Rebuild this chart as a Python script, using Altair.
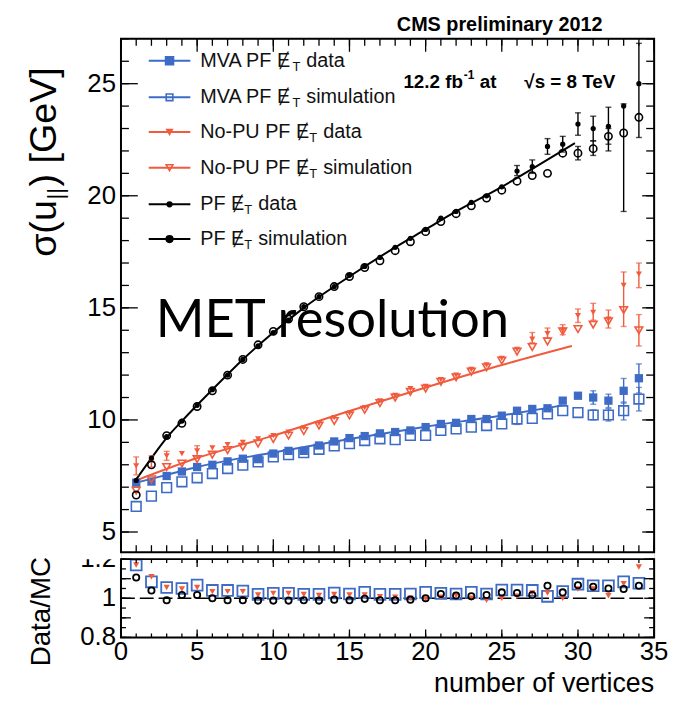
import altair as alt
import pandas as pd

# ---------------- data ----------------
nvtx = list(range(1, 35))

mva_data = [7.2, 7.25, 7.5, 7.7, 7.9, 8.0, 8.15, 8.27, 8.25, 8.5,
            8.62, 8.62, 8.86, 9.04, 9.19, 9.28, 9.4, 9.46, 9.53, 9.68,
            9.82, 9.87, 10.04, 10.04, 10.19, 10.41, 10.49, 10.52, 10.86, 11.08,
            11.0, 10.86, 11.3, 11.86]
mva_sim = [6.14, 6.6, 6.98, 7.24, 7.42, 7.61, 7.83, 7.98, 8.13, 8.35,
           8.45, 8.54, 8.69, 8.84, 8.94, 9.08, 9.16, 9.12, 9.31, 9.31,
           9.53, 9.6, 9.68, 9.75, 9.82, 10.04, 10.07, 10.27, 10.41, 10.33,
           10.22, 10.22, 10.41, 10.93]
nopu_data = [7.95, 8.15, 8.4, 8.5, 8.62, 8.75, 8.9, 9.0, 9.15, 9.3,
             9.45, 9.65, 9.85, 10.1, 10.3, 10.55, 10.85, 11.1, 11.4, 11.5,
             11.8, 12.0, 12.25, 12.45, 12.75, 13.15, 13.6, 13.85, 14.0, 14.65,
             14.8, 14.5, 16.0, 16.5]
nopu_sim = [6.85, 7.35, 7.9, 8.05, 8.25, 8.45, 8.65, 8.8, 8.95, 9.15,
            9.3, 9.5, 9.75, 9.95, 10.2, 10.45, 10.75, 11.0, 11.25, 11.4,
            11.7, 11.9, 12.15, 12.35, 12.65, 13.05, 13.25, 13.5, 13.95, 14.05,
            14.25, 14.4, 14.9, 14.0]
pf_data = [7.3, 8.3, 9.25, 9.95, 10.65, 11.35, 12.0, 12.7, 13.3, 13.9,
           14.45, 15.05, 15.5, 15.95, 16.45, 16.85, 17.25, 17.7, 18.1, 18.5,
           19.0, 19.3, 19.7, 20.0, 20.4, 21.1, 21.3, 22.2, 22.3, 23.2,
           23.0, 23.1, 24.0, 25.0]
pf_sim = [6.65, 8.0, 9.3, 9.85, 10.6, 11.3, 12.0, 12.7, 13.35, 13.95,
          14.5, 15.05, 15.5, 15.95, 16.4, 16.8, 17.1, 17.55, 17.95, 18.4,
          18.85, 19.2, 19.55, 19.9, 20.25, 20.65, 20.9, 21.0, 21.9, 21.9,
          22.1, 22.65, 22.8, 23.5]

# fitted curves
pf_fit_x = [1, 2, 3, 4, 6, 8, 10, 12, 15, 18, 20, 22, 25, 27, 29.8]
pf_fit_y = [7.35, 8.3, 9.2, 9.95, 11.35, 12.7, 13.9, 15.0, 16.4, 17.7, 18.5, 19.3, 20.4, 21.2, 22.35]
nopu_fit_x = [1, 5, 10, 15, 20, 25, 29.6]
nopu_fit_y = [7.3, 8.3, 9.3, 10.4, 11.45, 12.45, 13.3]
mva_fit_x = [1, 3, 5, 10, 15, 20, 25, 29]
mva_fit_y = [7.2, 7.55, 7.9, 8.55, 9.15, 9.7, 10.2, 10.65]

# error bars (x, low, high)
pf_err = [(26, 20.9, 21.35), (27, 21.0, 21.6), (28, 21.85, 22.55), (29, 21.95, 22.65),
          (30, 22.7, 23.7), (31, 22.45, 23.55), (32, 22.0, 23.95), (33, 19.3, 24.1),
          (34, 22.6, 26.8), (30, 21.6, 22.2), (31, 21.8, 22.45), (32, 22.3, 23.0)]
nopu_err = [(1, 7.55, 8.35), (2, 7.9, 8.4), (3, 8.2, 8.6), (5, 8.4, 8.85),
            (27, 13.45, 13.9), (28, 13.65, 14.1), (29, 13.8, 14.25), (30, 14.35, 14.95),
            (31, 14.45, 15.2), (32, 14.1, 14.9), (33, 14.17, 16.6), (34, 15.9, 17.0),
            (34, 13.3, 14.7)]
mva_err = [(26, 9.8, 10.3), (31, 10.7, 11.3), (31, 10.0, 10.45), (32, 10.55, 11.15),
           (32, 9.95, 10.5), (33, 10.75, 11.85), (33, 10.0, 10.8), (34, 11.2, 12.5),
           (34, 10.4, 11.45)]

# data / MC ratios
ratio_mva = [1.17, 1.084, 1.055, 1.05, 1.067, 1.04, 1.04, 1.037, 1.02, 1.025,
             1.025, 1.02, 1.02, 1.027, 1.022, 1.03, 1.02, 1.02, 1.022, 1.03,
             1.025, 1.022, 1.03, 1.022, 1.042, 1.042, 1.04, 1.01, 1.034, 1.072,
             1.064, 1.064, 1.084, 1.077]
ratio_nopu = [1.17, 1.11, 1.055, 1.047, 1.055, 1.034, 1.034, 1.034, 1.017, 1.025,
              1.025, 1.019, 1.014, 1.019, 1.017, 1.017, 1.008, 1.005, 1.0, 0.997,
              1.005, 1.014, 1.0, 0.99, 1.0, 1.01, 1.027, 1.027, 1.0, 1.047,
              1.047, 1.013, 1.074, 1.16]
ratio_pf = [1.106, 1.04, 0.99, 1.017, 1.017, 1.0, 0.99, 0.99, 0.988, 0.988,
            0.988, 0.99, 0.988, 0.993, 0.99, 0.997, 0.99, 0.99, 0.993, 1.0,
            1.022, 1.014, 1.01, 1.017, 1.03, 1.027, 1.017, 1.064, 1.03, 1.067,
            1.059, 1.05, 1.047, 1.064]

# axis ticks and labels
x_labels = [0, 5, 10, 15, 20, 25, 30, 35]
x_minor = list(range(0, 36))
y_labels = [5, 10, 15, 20, 25]
y_minor = list(range(5, 28))
r_labels = [0.8, 1.0, 1.2]
r_label_text = ["0.8", "1", "1.2"]
r_major = [0.8, 0.9, 1.0, 1.1, 1.2]
r_minor = [0.8, 0.85, 0.9, 0.95, 1.0, 1.05, 1.1, 1.15, 1.2]

legend_pre = ["MVA PF Ɇ", "MVA PF Ɇ", "No-PU PF Ɇ", "No-PU PF Ɇ", "PF Ɇ", "PF Ɇ"]
legend_suf = ["data", "simulation", "data", "simulation", "data", "simulation"]

# ---------------- layout / style ----------------
FONT = "Liberation Sans"
W, H = 538, 604
MAIN_B = 518
RAT_T = 525
BLUE = "#3d6bc6"
RED = "#f15b3d"
BLACK = "#000000"

xs = alt.Scale(domain=[0, 35], nice=False, zero=False)
ys_main = alt.Scale(domain=[4.1, 27.0], range=[MAIN_B, 0], nice=False, zero=False)
ys_rat = alt.Scale(domain=[0.8, 1.2], range=[H, RAT_T], nice=False, zero=False)

one = pd.DataFrame({"d": [0]})


def X(f="x"):
    return alt.X(f"{f}:Q", scale=xs, axis=None)


def Ym(f="y"):
    return alt.Y(f"{f}:Q", scale=ys_main, axis=None)


def Yr(f="y"):
    return alt.Y(f"{f}:Q", scale=ys_rat, axis=None)


layers = []

# --- fitted lines
for fx, fy, col in [(mva_fit_x, mva_fit_y, BLUE), (nopu_fit_x, nopu_fit_y, RED), (pf_fit_x, pf_fit_y, BLACK)]:
    layers.append(alt.Chart(pd.DataFrame({"x": fx, "y": fy})).mark_line(
        color=col, strokeWidth=2, interpolate="monotone").encode(x=X(), y=Ym(), order="x:Q"))

# --- error bars
for errs, col in [(mva_err, BLUE), (nopu_err, RED), (pf_err, BLACK)]:
    edf = pd.DataFrame(errs, columns=["x", "lo", "hi"])
    layers.append(alt.Chart(edf).mark_rule(color=col, strokeWidth=1.4).encode(
        x=X(), y=Ym("lo"), y2="hi:Q"))
    cdf = pd.DataFrame({"x": list(edf.x) * 2, "y": list(edf.lo) + list(edf.hi)})
    layers.append(alt.Chart(cdf).mark_tick(orient="horizontal", color=col, size=6, thickness=1.4).encode(
        x=X(), y=Ym()))


def pts(vals, shape, filled, col, size, yfn=Ym, sw=1.6):
    df = pd.DataFrame({"x": nvtx, "y": vals})
    return alt.Chart(df).mark_point(shape=shape, filled=filled, color=col, size=size,
                                    strokeWidth=sw, opacity=1).encode(x=X(), y=yfn())


layers += [
    pts(mva_sim, "square", False, BLUE, 95),
    pts(mva_data, "square", True, BLUE, 70),
    pts(nopu_sim, "triangle-down", False, RED, 60),
    pts(nopu_data, "triangle-down", True, RED, 38),
    pts(pf_sim, "circle", False, BLACK, 55),
    pts(pf_data, "circle", True, BLACK, 28),
]

# --- ratio panel
layers.append(alt.Chart(pd.DataFrame({"y": [1.0]})).mark_rule(
    color=BLACK, strokeWidth=1.5, strokeDash=[14, 5]).encode(
    x=alt.value(0), x2=alt.value(W), y=Yr()))
layers += [
    pts(ratio_mva, "square", False, BLUE, 120, yfn=Yr, sw=1.8),
    pts(ratio_nopu, "triangle-down", True, RED, 40, yfn=Yr),
    pts(ratio_pf, "circle", False, BLACK, 40, yfn=Yr, sw=1.8),
]

# --- frames
for y0, y1 in [(0, MAIN_B), (RAT_T, H)]:
    layers.append(alt.Chart(one).mark_rect(fill="white", fillOpacity=0, stroke=BLACK, strokeWidth=2).encode(
        x=alt.value(0), x2=alt.value(W), y=alt.value(y0), y2=alt.value(y1)))


# --- ticks (drawn inward)
def xticks(vals, y_edge, length):
    df = pd.DataFrame({"x": vals})
    return alt.Chart(df).mark_rule(color=BLACK, strokeWidth=1.3).encode(
        x=X(), y=alt.value(y_edge), y2=alt.value(y_edge + length))


def yticks(vals, yfn, x_edge, length):
    df = pd.DataFrame({"y": vals})
    return alt.Chart(df).mark_rule(color=BLACK, strokeWidth=1.3).encode(
        y=yfn(), x=alt.value(x_edge), x2=alt.value(x_edge + length))


layers += [
    xticks(x_minor, MAIN_B, -7), xticks(x_labels, MAIN_B, -13),
    xticks(x_minor, 0, 7), xticks(x_labels, 0, 13),
    yticks(y_minor, Ym, 0, 8), yticks(y_labels, Ym, 0, 17),
    yticks(y_minor, Ym, W, -8), yticks(y_labels, Ym, W, -12),
    xticks(x_minor, H, -4), xticks(x_labels, H, -8),
    xticks(x_minor, RAT_T, 4), xticks(x_labels, RAT_T, 8),
    yticks(r_minor, Yr, 0, 5), yticks(r_major, Yr, 0, 10),
    yticks(r_minor, Yr, W, -5), yticks(r_major, Yr, W, -10),
]

# --- tick labels
layers.append(alt.Chart(pd.DataFrame({"x": x_labels, "t": [str(v) for v in x_labels]})).mark_text(
    font=FONT, fontSize=26, baseline="middle", align="center", color=BLACK).encode(
    x=X(), y=alt.value(619), text="t:N"))
layers.append(alt.Chart(pd.DataFrame({"y": y_labels, "t": [str(v) for v in y_labels]})).mark_text(
    font=FONT, fontSize=26, baseline="middle", align="right", color=BLACK).encode(
    y=Ym(), x=alt.value(-5), text="t:N"))
layers.append(alt.Chart(pd.DataFrame({"y": r_labels, "t": r_label_text})).mark_text(
    font=FONT, fontSize=26, baseline="middle", align="right", color=BLACK).encode(
    y=Yr(), x=alt.value(-5), text="t:N"))
# the upper half of "1.2" is hidden in the original
layers.append(alt.Chart(one).mark_rect(fill="white").encode(
    x=alt.value(-60), x2=alt.value(-2), y=alt.value(509), y2=alt.value(RAT_T)))

# --- axis titles
layers.append(alt.Chart(one).mark_text(font=FONT, fontSize=27, align="right", baseline="middle").encode(
    x=alt.value(W), y=alt.value(651), text=alt.value("number of vertices")))
layers.append(alt.Chart(one).mark_text(font=FONT, fontSize=28, align="center", baseline="middle", angle=270).encode(
    x=alt.value(-80), y=alt.value(578), text=alt.value("Data/MC")))
# sigma(u_||) [GeV], written bottom-to-top in pieces
layers.append(alt.Chart(one).mark_text(font=FONT, fontSize=38, align="left", baseline="alphabetic", angle=270).encode(
    x=alt.value(-66), y=alt.value(220), text=alt.value("σ(u")))
layers.append(alt.Chart(one).mark_text(font=FONT, fontSize=22, align="left", baseline="alphabetic", angle=270).encode(
    x=alt.value(-58), y=alt.value(162), text=alt.value("||")))
layers.append(alt.Chart(one).mark_text(font=FONT, fontSize=38, align="left", baseline="alphabetic", angle=270).encode(
    x=alt.value(-66), y=alt.value(149), text=alt.value(") [GeV]")))

# --- header texts
layers.append(alt.Chart(one).mark_text(font=FONT, fontSize=20, fontWeight="bold", align="right", baseline="middle").encode(
    x=alt.value(486), y=alt.value(-14), text=alt.value("CMS preliminary 2012")))
LX = 285
for txt, dx, fs, dy in [("12.2 fb", 0, 19, 0), ("-1", 61, 12, -7), ("at", 77, 19, 0), ("√s = 8 TeV", 122, 19, 0)]:
    layers.append(alt.Chart(one).mark_text(font=FONT, fontSize=fs, fontWeight="bold", align="left", baseline="middle").encode(
        x=alt.value(LX + dx), y=alt.value(44 + dy), text=alt.value(txt)))

# --- big overlay text
layers.append(alt.Chart(one).mark_text(font="Lato", fontSize=53, align="left", baseline="alphabetic", color=BLACK).encode(
    x=alt.value(35), y=alt.value(301), text=alt.value("MET resolution")))

# --- legend
leg_y = [22, 59, 94, 130, 167, 202]
leg_col = [BLUE, BLUE, RED, RED, BLACK, BLACK]
leg_shape = ["square", "square", "triangle-down", "triangle-down", "circle", "circle"]
leg_fill = [BLUE, "transparent", RED, "transparent", BLACK, BLACK]
leg_size = [64, 45, 30, 45, 22, 45]
pre_w = {"MVA PF Ɇ": 93, "No-PU PF Ɇ": 110, "PF Ɇ": 44.5}
leg = pd.DataFrame({
    "ly": leg_y, "col": leg_col, "shape": leg_shape, "fill": leg_fill, "sz": leg_size,
    "pre": legend_pre, "suf": legend_suf,
})
leg["tx"] = 80 + leg["pre"].map(pre_w)
leg["sx"] = leg["tx"] + 14
leg["ty"] = leg["ly"] + 6
LEGX = 80
layers.append(alt.Chart(leg).mark_rule(strokeWidth=2).encode(
    x=alt.value(28), x2=alt.value(70), y=alt.Y("ly:Q", scale=None), color=alt.Color("col:N", scale=None)))
layers.append(alt.Chart(leg).mark_point(opacity=1, strokeWidth=1.6, fillOpacity=1).encode(
    x=alt.value(49), y=alt.Y("ly:Q", scale=None), shape=alt.Shape("shape:N", scale=None),
    fill=alt.Fill("fill:N", scale=None), stroke=alt.Stroke("col:N", scale=None),
    size=alt.Size("sz:Q", scale=None)))
layers.append(alt.Chart(leg).mark_text(font=FONT, fontSize=20, align="left", baseline="middle", color="#111").encode(
    x=alt.value(LEGX), y=alt.Y("ly:Q", scale=None), text="pre:N"))
layers.append(alt.Chart(leg).mark_text(font=FONT, fontSize=13, align="left", baseline="middle", color="#111").encode(
    x=alt.X("tx:Q", scale=None), y=alt.Y("ty:Q", scale=None), text=alt.value("T")))
layers.append(alt.Chart(leg).mark_text(font=FONT, fontSize=20, align="left", baseline="middle", color="#111").encode(
    x=alt.X("sx:Q", scale=None), y=alt.Y("ly:Q", scale=None), text="suf:N"))

chart = alt.layer(*layers).resolve_scale(y="independent").properties(
    width=W, height=H,
    autosize=alt.AutoSizeParams(type="none"),
    padding={"left": 114, "top": 28, "right": 14, "bottom": 58},
).configure_view(stroke=None).configure(background="white")

chart.save("out.html", embed_options={"renderer": "svg", "actions": False})
